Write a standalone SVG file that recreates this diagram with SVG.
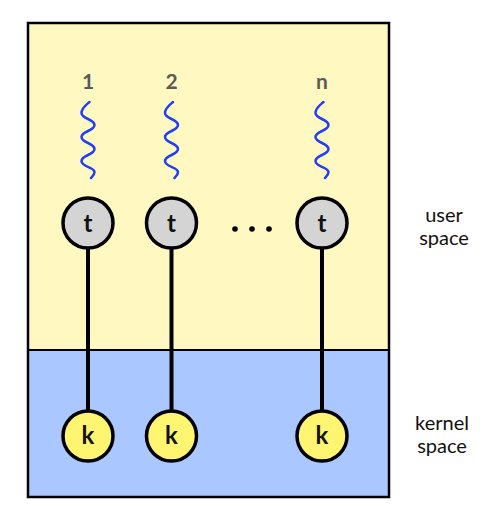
<svg xmlns="http://www.w3.org/2000/svg" width="500" height="522" viewBox="0 0 500 522">
<style>
.lbl{font-family:"Lato","Open Sans",sans-serif;font-size:24px;font-weight:bold;fill:#111;text-anchor:middle}
.num{font-family:"Lato","Open Sans",sans-serif;font-size:21px;font-weight:bold;fill:#5a5a5a;text-anchor:middle}
.side{font-family:"Lato","Open Sans",sans-serif;font-size:20px;fill:#111;text-anchor:middle}
.tc{fill:#d4d4d4;stroke:#000;stroke-width:3.5}
.kc{fill:#fff570;stroke:#000;stroke-width:3.5}
.wave{fill:none;stroke:#1f3dff;stroke-width:2.5;stroke-linecap:round}
.conn{stroke:#000;stroke-width:4}
</style>
<defs>
<path id="wv" class="wave" d="M1.5,102 C-2,105 -6.5,108 -6.5,113 C-6.5,119 6.5,119 6.5,125 C6.5,131 -6.5,131 -6.5,137 C-6.5,143 6.5,143 6.5,149 C6.5,155 -6.5,155 -6.5,161 C-6.5,167 6.5,167 6.5,172 C6.5,175 4,177 3,178"/>
</defs>
<g id="background">
<rect x="28" y="23" width="361" height="327" fill="#fff8c1"/>
<rect x="28" y="350" width="361" height="147" fill="#aac8ff"/>
<line x1="28" y1="350" x2="389" y2="350" stroke="#000" stroke-width="2"/>
<rect x="28" y="23" width="361" height="474" fill="none" stroke="#000" stroke-width="2.5"/>
</g>
<g id="connectors">
<line class="conn" x1="88" y1="249" x2="88" y2="410"/>
<line class="conn" x1="171.5" y1="249" x2="171.5" y2="410"/>
<line class="conn" x1="322" y1="249" x2="322" y2="410"/>
</g>
<g id="thread1">
<text class="num" x="88" y="89">1</text>
<use href="#wv" x="88"/>
<circle class="tc" cx="88" cy="223" r="25"/>
<text class="lbl" x="88" y="232">t</text>
</g>
<g id="thread2">
<text class="num" x="171.5" y="89">2</text>
<use href="#wv" x="171.5"/>
<circle class="tc" cx="171.5" cy="223" r="25"/>
<text class="lbl" x="171.5" y="232">t</text>
</g>
<g id="threadn">
<text class="num" x="322" y="89">n</text>
<use href="#wv" x="322"/>
<circle class="tc" cx="322" cy="223" r="25"/>
<text class="lbl" x="322" y="232">t</text>
</g>
<g id="dots">
<circle cx="235" cy="229" r="2.8" fill="#000"/>
<circle cx="252" cy="229" r="2.8" fill="#000"/>
<circle cx="269" cy="229" r="2.8" fill="#000"/>
</g>
<g id="kernel1">
<circle class="kc" cx="88" cy="436" r="25"/>
<text class="lbl" x="88" y="444">k</text>
</g>
<g id="kernel2">
<circle class="kc" cx="171.5" cy="436" r="25"/>
<text class="lbl" x="171.5" y="444">k</text>
</g>
<g id="kerneln">
<circle class="kc" cx="322" cy="436" r="25"/>
<text class="lbl" x="322" y="444">k</text>
</g>
<g id="userspace">
<text class="side" x="444" y="222">user</text>
<text class="side" x="444" y="245">space</text>
</g>
<g id="kernelspace">
<text class="side" x="442" y="430">kernel</text>
<text class="side" x="442" y="453">space</text>
</g>
</svg>
